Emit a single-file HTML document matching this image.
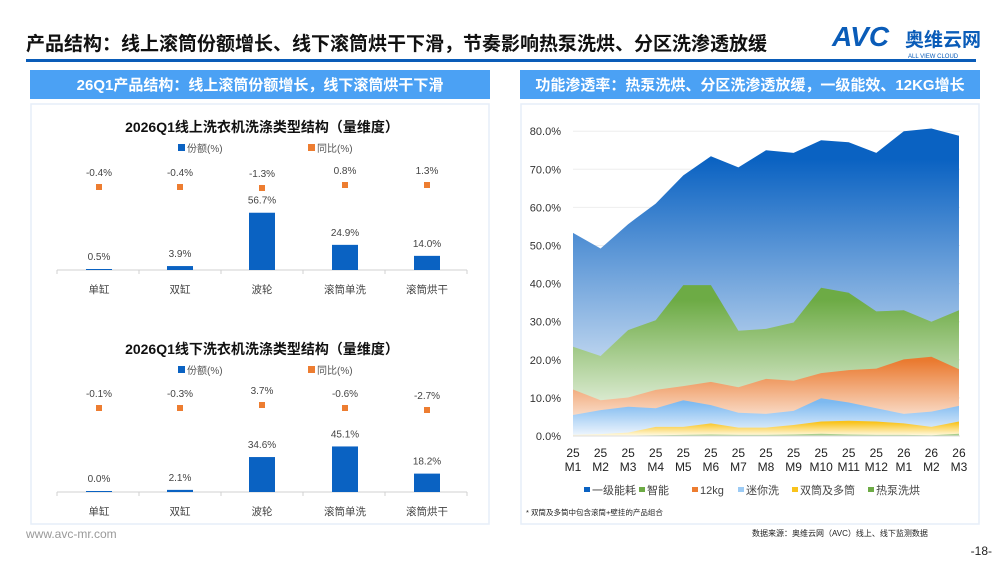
<!DOCTYPE html>
<html><head><meta charset="utf-8"><style>
html,body{margin:0;padding:0;background:#fff;}
body{width:1000px;height:562px;position:relative;overflow:hidden;font-family:"Liberation Sans","Noto Sans CJK SC",sans-serif;}
svg text{font-family:"Liberation Sans","Noto Sans CJK SC",sans-serif;}
</style></head><body>
<svg id="s" width="1000" height="562" viewBox="0 0 1000 562" xmlns="http://www.w3.org/2000/svg">
<defs>
<linearGradient id="gb" x1="0" y1="0" x2="0" y2="1"><stop offset="0.1" stop-color="#0a62c2"/><stop offset="1" stop-color="#ffffff"/></linearGradient>
<linearGradient id="gg" x1="0" y1="0" x2="0" y2="1"><stop offset="0.1" stop-color="#6dab45"/><stop offset="1" stop-color="#ffffff"/></linearGradient>
<linearGradient id="go" x1="0" y1="0" x2="0" y2="1"><stop offset="0.05" stop-color="#ea7a30"/><stop offset="1" stop-color="#ffffff"/></linearGradient>
<linearGradient id="gl" x1="0" y1="0" x2="0" y2="1"><stop offset="0.1" stop-color="#7db9f0"/><stop offset="1" stop-color="#f0f6fd"/></linearGradient>
<linearGradient id="gy" x1="0" y1="0" x2="0" y2="1"><stop offset="0.1" stop-color="#f9c31c"/><stop offset="1" stop-color="#fffbe8"/></linearGradient>
</defs>
<!-- header -->
<text x="26" y="50" font-size="19" font-weight="bold" fill="#111">产品结构：线上滚筒份额增长、线下滚筒烘干下滑，节奏影响热泵洗烘、分区洗渗透放缓</text>
<text x="832" y="46" font-size="28" font-weight="bold" fill="#0a5cb8" font-style="italic">AVC</text>
<text x="905" y="46" font-size="19" font-weight="bold" fill="#0a5cb8">奥维云网</text>
<text x="908" y="58" font-size="6" fill="#0a5cb8">ALL VIEW CLOUD</text>
<rect x="26" y="59" width="950" height="3" fill="#0a5cb8"/>
<!-- panel headers -->
<rect x="30" y="70" width="460" height="29" fill="#4ba1f4"/>
<text x="260" y="90" font-size="15" font-weight="bold" fill="#fff" text-anchor="middle">26Q1产品结构：线上滚筒份额增长，线下滚筒烘干下滑</text>
<rect x="520" y="70" width="460" height="29" fill="#4ba1f4"/>
<text x="750" y="90" font-size="15" font-weight="bold" fill="#fff" text-anchor="middle">功能渗透率：热泵洗烘、分区洗渗透放缓，一级能效、12KG增长</text>
<rect x="31" y="104" width="458" height="420" fill="#fff" stroke="#e6eef8" stroke-width="1.5"/>
<rect x="521" y="104" width="458" height="420" fill="#fff" stroke="#e6eef8" stroke-width="1.5"/>
<g id="left"></g>
<g id="right"></g>
<text x="26" y="538" font-size="12" fill="#999">www.avc-mr.com</text>
<text x="752" y="536" font-size="8" fill="#222">数据来源：奥维云网（AVC）线上、线下监测数据</text>
<text x="992" y="555" font-size="12" fill="#222" text-anchor="end">-18-</text>
</svg>
<script>
var NS="http://www.w3.org/2000/svg";
function el(p,t,a,txt){var e=document.createElementNS(NS,t);for(var k in a)e.setAttribute(k,a[k]);if(txt!==undefined)e.textContent=txt;p.appendChild(e);return e;}
var L=document.getElementById('left');
var cx=[99,180,262,345,427],cats=['单缸','双缸','波轮','滚筒单洗','滚筒烘干'];
function bars(off,title,share,yoy,dotY){
 var base=270+off;
 el(L,'text',{x:262,y:132+off,'font-size':14,'font-weight':'bold','text-anchor':'middle',fill:'#111'},title);
 el(L,'rect',{x:178,y:144+off,width:7,height:7,fill:'#0a62c2'});
 el(L,'text',{x:187,y:152+off,'font-size':10,fill:'#555'},'份额(%)');
 el(L,'rect',{x:308,y:144+off,width:7,height:7,fill:'#ed7d31'});
 el(L,'text',{x:317,y:152+off,'font-size':10,fill:'#555'},'同比(%)');
 el(L,'line',{x1:57,y1:base,x2:467,y2:base,stroke:'#d0d0d0'});
 for(var i=0;i<=5;i++){var tx=57+i*82;el(L,'line',{x1:tx,y1:base,x2:tx,y2:base+4,stroke:'#d0d0d0'});}
 for(var i=0;i<5;i++){
  var h=Math.max(share[i]*1.01,1);
  el(L,'rect',{x:cx[i]-13,y:base-h,width:26,height:h,fill:'#0a62c2'});
  el(L,'text',{x:cx[i],y:base-h-9,'font-size':10,'text-anchor':'middle',fill:'#444'},share[i].toFixed(1)+'%');
  el(L,'rect',{x:cx[i]-3,y:dotY[i]-3+off,width:6,height:6,fill:'#ed7d31'});
  el(L,'text',{x:cx[i],y:dotY[i]-11+off,'font-size':10,'text-anchor':'middle',fill:'#444'},yoy[i]);
  el(L,'text',{x:cx[i],y:base+23,'font-size':10.5,'text-anchor':'middle',fill:'#444'},cats[i]);
 }
}
bars(0,'2026Q1线上洗衣机洗涤类型结构（量维度）',[0.5,3.9,56.7,24.9,14.0],['-0.4%','-0.4%','-1.3%','0.8%','1.3%'],[187,187,188,185,185]);
bars(222,'2026Q1线下洗衣机洗涤类型结构（量维度）',[0.0,2.1,34.6,45.1,18.2],['-0.1%','-0.3%','3.7%','-0.6%','-2.7%'],[186,186,183,186,188]);
// right chart
var R=document.getElementById('right');
var x0=573,dx=27.57,y0=436,k=3.81;
for(var g=0;g<=8;g++){var y=y0-g*10*k;el(R,'line',{x1:573,y1:y,x2:960,y2:y,stroke:'#eee'});
 el(R,'text',{x:561,y:y+4,'font-size':11,'text-anchor':'end',fill:'#333'},(g*10).toFixed(1)+'%');}
var S=[
 ['url(#gb)',[53.3,49.2,55.6,61,68.4,73.4,70.5,75,74.3,77.6,77.1,74.3,80,80.7,78.8]],
 ['url(#gg)',[23.4,21,27.8,30.4,39.6,39.6,27.6,28.1,29.8,38.9,37.6,32.7,33,30,33]],
 ['url(#go)',[12.2,9.4,10.1,12.1,13.1,14.2,12.8,15,14.5,16.5,17.3,17.7,20.1,20.8,17.5]],
 ['url(#gl)',[5.5,6.8,7.7,7.3,9.4,8.1,6.1,5.8,6.6,9.9,8.8,7.3,5.8,6.4,7.9]],
 ['url(#gy)',[0.3,0.5,0.9,2.4,2.4,3.3,2.2,2.2,2.9,3.8,4,3.8,3.3,2.4,3.8]],
 ['#a9cf8f',[0.1,0.1,0.1,0.2,0.3,0.4,0.3,0.3,0.4,0.6,0.4,0.3,0.3,0.2,0.6]]];
S.forEach(function(s){var d='M'+x0+' '+y0;s[1].forEach(function(v,i){d+=' L'+(x0+i*dx).toFixed(1)+' '+(y0-v*k).toFixed(1);});d+=' L'+(x0+14*dx)+' '+y0+' Z';el(R,'path',{d:d,fill:s[0]});});
el(R,'line',{x1:573,y1:y0,x2:960,y2:y0,stroke:'#ddd'});
var xl=['25','25','25','25','25','25','25','25','25','25','25','25','26','26','26'];
for(var i=0;i<15;i++){var x=x0+i*dx;
 el(R,'text',{x:x,y:457,'font-size':12,'text-anchor':'middle',fill:'#222'},xl[i]);
 el(R,'text',{x:x,y:471,'font-size':12,'text-anchor':'middle',fill:'#222'},'M'+(i<12?i+1:i-11));}
var lg=[['#0a62c2','一级能耗',584],['#6dab45','智能',639],['#ed7d31','12kg',692],['#9ccbf5','迷你洗',738],['#f9c31c','双筒及多筒',792],['#6dab45','热泵洗烘',868]];
lg.forEach(function(l){el(R,'rect',{x:l[2],y:487,width:6,height:5,fill:l[0]});el(R,'text',{x:l[2]+8,y:494,'font-size':11,fill:'#444'},l[1]);});
el(R,'text',{x:526,y:515,'font-size':7.5,fill:'#222'},'* 双筒及多筒中包含滚筒+壁挂的产品组合');
</script>
</body></html>
